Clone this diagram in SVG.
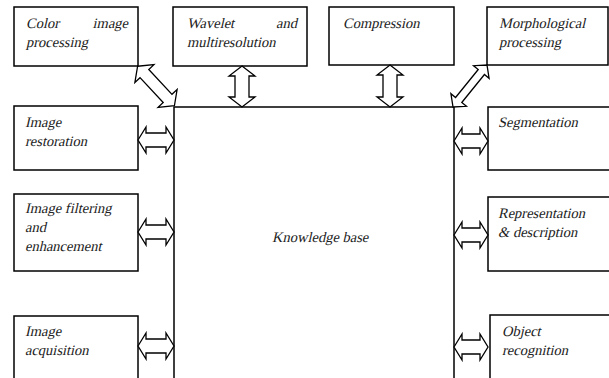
<svg xmlns="http://www.w3.org/2000/svg" width="609" height="378" viewBox="0 0 609 378">
<style>
.box{fill:#fff;stroke:#000;stroke-width:1.5}
.arr{fill:#fff;stroke:#000;stroke-width:1.3;stroke-linejoin:miter}
.t{font-family:"Liberation Serif","Times New Roman",serif;font-size:14.5px;fill:#222}
</style>
<rect width="609" height="378" fill="#fff"/>
<g id="knowledge-base"><rect class="box" x="174" y="107" width="280" height="300"/><text class="t" transform="translate(272,242) skewX(-13)">Knowledge base</text></g>
<g id="color"><rect class="box" x="14" y="7" width="124" height="59"/><text class="t" transform="translate(26,28) skewX(-13)">Color</text><text class="t" text-anchor="end" transform="translate(128,28) skewX(-13)">image</text><text class="t" transform="translate(26,47) skewX(-13)">processing</text></g>
<g id="wavelet"><rect class="box" x="173" y="7" width="134" height="59"/><text class="t" transform="translate(187,28) skewX(-13)">Wavelet</text><text class="t" text-anchor="end" transform="translate(297,28) skewX(-13)">and</text><text class="t" transform="translate(187,47) skewX(-13)">multiresolution</text></g>
<g id="compression"><rect class="box" x="329" y="7" width="125" height="58"/><text class="t" transform="translate(343,28) skewX(-13)">Compression</text></g>
<g id="morphological"><rect class="box" x="487" y="7" width="121" height="58"/><text class="t" transform="translate(499,28) skewX(-13)">Morphological</text><text class="t" transform="translate(499,47) skewX(-13)">processing</text></g>
<g id="restoration"><rect class="box" x="14" y="106" width="124" height="64"/><text class="t" transform="translate(25,127) skewX(-13)">Image</text><text class="t" transform="translate(25,146) skewX(-13)">restoration</text></g>
<g id="filtering"><rect class="box" x="14" y="194" width="124" height="77"/><text class="t" transform="translate(25,213) skewX(-13)">Image filtering</text><text class="t" transform="translate(25,232) skewX(-13)">and</text><text class="t" transform="translate(25,251) skewX(-13)">enhancement</text></g>
<g id="acquisition"><rect class="box" x="14" y="316" width="124" height="100"/><text class="t" transform="translate(25,336) skewX(-13)">Image</text><text class="t" transform="translate(25,355) skewX(-13)">acquisition</text></g>
<g id="segmentation"><rect class="box" x="488" y="107" width="130" height="63"/><text class="t" transform="translate(498,127) skewX(-13)">Segmentation</text></g>
<g id="representation"><rect class="box" x="488" y="197" width="130" height="74"/><text class="t" transform="translate(498,218) skewX(-13)">Representation</text><text class="t" transform="translate(498,237) skewX(-13)">&amp; description</text></g>
<g id="recognition"><rect class="box" x="490" y="315" width="130" height="100"/><text class="t" transform="translate(502,336) skewX(-13)">Object</text><text class="t" transform="translate(502,355) skewX(-13)">recognition</text></g>
<g id="connectors">
<path class="arr" d="M138,140 L146,127 L146,133 L166,133 L166,127 L174,140 L166,153 L166,147 L146,147 L146,153 Z"/>
<path class="arr" d="M138,232 L146,219 L146,225 L166,225 L166,219 L174,232 L166,245 L166,239 L146,239 L146,245 Z"/>
<path class="arr" d="M138,346 L146,333 L146,339 L166,339 L166,333 L174,346 L166,359 L166,353 L146,353 L146,359 Z"/>
<path class="arr" d="M454,141 L462,128 L462,134 L480,134 L480,128 L488,141 L480,154 L480,148 L462,148 L462,154 Z"/>
<path class="arr" d="M454,235 L462,222 L462,228 L480,228 L480,222 L488,235 L480,248 L480,242 L462,242 L462,248 Z"/>
<path class="arr" d="M454,347 L462,334 L462,340 L480,340 L480,334 L488,347 L480,360 L480,354 L462,354 L462,360 Z"/>
<path class="arr" d="M242,66 L255,76 L249,76 L249,97 L255,97 L242,107 L229,97 L235,97 L235,76 L229,76 Z"/>
<path class="arr" d="M390,65 L403,75 L397,75 L397,97 L403,97 L390,107 L377,97 L383,97 L383,75 L377,75 Z"/>
<path class="arr" transform="translate(156,86) rotate(47)" d="M-27,0 L-17,-13 L-17,-6 L17,-6 L17,-13 L27,0 L17,13 L17,6 L-17,6 L-17,13 Z"/>
<path class="arr" transform="translate(470,86) rotate(-51)" d="M-27,0 L-18,-10 L-18,-4 L18,-4 L18,-10 L27,0 L18,10 L18,4 L-18,4 L-18,10 Z"/>
</g>
</svg>
